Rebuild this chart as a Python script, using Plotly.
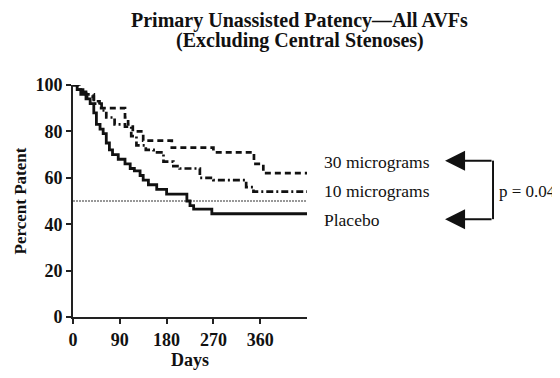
import plotly.graph_objects as go

# ---- data ----
placebo_days = [0, 8, 15, 25, 33, 40, 45, 52, 58, 64, 70, 76, 87, 100, 110, 118, 129, 135, 145, 161, 180, 219, 225, 232, 267, 450]
placebo_pct  = [100, 98, 96, 94, 92, 88, 83, 81, 79, 75, 72, 70, 68, 66, 64, 63, 61, 59, 57, 55, 53, 50, 48, 46.5, 44.5, 44.5]

mcg30_days = [0, 12, 25, 40, 51, 96, 100, 106, 115, 135, 190, 260, 270, 341, 348, 366, 450]
mcg30_pct  = [100, 98, 96, 93, 90, 90, 86, 83, 80, 76, 73, 73, 71, 71, 66, 62, 62]

mcg10_days = [0, 12, 25, 40, 55, 64, 80, 100, 112, 122, 140, 155, 174, 193, 205, 244, 270, 321, 333, 347, 450]
mcg10_pct  = [100, 97, 95, 92, 89, 86, 83, 82, 78, 74, 72, 71, 67, 65, 64, 60, 59, 59, 56, 54, 54]

ref_days = [0, 450]
ref_pct = [50, 50]

x_ticks = [0, 90, 180, 270, 360]
y_ticks = [0, 20, 40, 60, 80, 100]

series_labels = ["30 micrograms", "10 micrograms", "Placebo"]
p_label = "p = 0.04"
title_lines = ["Primary Unassisted Patency\u2014All AVFs", "(Excluding Central Stenoses)"]

SERIF = "Liberation Serif, Times New Roman, serif"

fig = go.Figure()
fig.add_trace(go.Scatter(x=ref_days, y=ref_pct, mode="lines",
                         line=dict(color="#777777", width=1.5, dash="2px,1px"),
                         showlegend=False, hoverinfo="skip"))
fig.add_trace(go.Scatter(x=mcg30_days, y=mcg30_pct, mode="lines", line_shape="hv",
                         line=dict(color="#111111", width=2.7, dash="6px,4px"),
                         showlegend=False))
fig.add_trace(go.Scatter(x=mcg10_days, y=mcg10_pct, mode="lines", line_shape="hv",
                         line=dict(color="#111111", width=2.7, dash="7px,3px,2px,3px"),
                         showlegend=False))
fig.add_trace(go.Scatter(x=placebo_days, y=placebo_pct, mode="lines", line_shape="hv",
                         line=dict(color="#111111", width=2.8),
                         showlegend=False))

axis_common = dict(showgrid=False, zeroline=False, showline=True, linecolor="#222222",
                   linewidth=2, ticks="outside", ticklen=5, tickwidth=2, tickcolor="#222222",
                   tickfont=dict(family=SERIF, size=18, color="#111111"))

fig.update_xaxes(range=[0, 450], tickvals=x_ticks, ticktext=[f"<b>{t}</b>" for t in x_ticks],
                 title=dict(text="<b>Days</b>", font=dict(family=SERIF, size=18, color="#111111"),
                            standoff=4),
                 **axis_common)
fig.update_yaxes(range=[0, 100], tickvals=y_ticks, ticktext=[f"<b>{t}</b>" for t in y_ticks],
                 title=dict(text="<b>Percent Patent</b>", font=dict(family=SERIF, size=17, color="#111111"),
                            standoff=4),
                 **axis_common)

annotations = []
for line, ty in zip(title_lines, [1.279, 1.19]):
    annotations.append(dict(text=f"<b>{line}</b>", xref="paper", yref="paper", x=0.970, y=ty,
                            xanchor="center", yanchor="middle", showarrow=False,
                            font=dict(family=SERIF, size=20, color="#111111")))
label_y = [0.668, 0.544, 0.417]
for lab, ly in zip(series_labels, label_y):
    annotations.append(dict(text=lab, xref="paper", yref="paper", x=1.062, y=ly,
                            xanchor="left", yanchor="middle", showarrow=False,
                            font=dict(family=SERIF, size=17.5, color="#111111")))
annotations.append(dict(text=p_label, xref="paper", yref="paper", x=1.812, y=0.539,
                        xanchor="left", yanchor="middle", showarrow=False,
                        font=dict(family=SERIF, size=17, color="#111111")))
for ay_ in [0.674, 0.4217]:
    annotations.append(dict(text="", xref="paper", yref="paper", x=1.590, y=ay_,
                            ax=48, ay=0, showarrow=True, arrowhead=2, arrowsize=2,
                            arrowwidth=2, arrowcolor="#111111", standoff=0))

shapes = [dict(type="line", xref="paper", yref="paper", x0=1.795, x1=1.795,
               y0=0.4217, y1=0.674, line=dict(color="#111111", width=2))]

# the page body has an 8px margin, so the figure is shifted by 8px
fig.update_layout(width=552, height=370, plot_bgcolor="white", paper_bgcolor="white",
                  margin=dict(l=65, r=253, t=77, b=61),
                  annotations=annotations, shapes=shapes, showlegend=False)

fig.write_html("out.html")
